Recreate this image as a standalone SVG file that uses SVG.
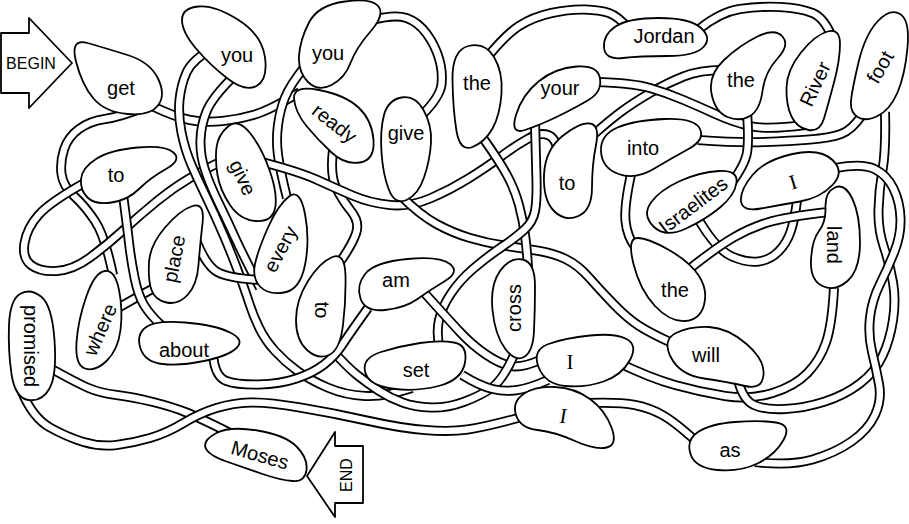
<svg xmlns="http://www.w3.org/2000/svg" xmlns:xlink="http://www.w3.org/1999/xlink" width="909" height="524" viewBox="0 0 909 524">
<style>
.o{fill:none;stroke:#000;stroke-width:10;stroke-linejoin:round}
.i{fill:none;stroke:#fff;stroke-width:6.4;stroke-linejoin:round}
.b{fill:#fff;stroke:#000;stroke-width:1.8;stroke-linejoin:round}
text{font-family:"Liberation Sans",Arial,Helvetica,sans-serif;font-size:20px;fill:#000;text-anchor:middle}
.s{font-family:"Liberation Serif","Times New Roman",serif;font-size:21px}
.sm{font-size:16px}
</style>
<defs>
<path id="c1" d="M152,106 Q175,117 190,120 T222.5,121 T255,114.5 T300,92"/>
<path id="c2" d="M145,107 Q120,117 105,119 T79,129 T64,149.5 T61.5,174 T74,196 T95,221 T113,275"/>
<path id="c3" d="M86,182 Q50,202 38.5,215 T24.5,243 T31,265 T56.5,271 T90,257.5 T123.5,230 T156.5,201.5 T190,178 T224,160"/>
<path id="c4" d="M213,48 Q192,60 186.5,72.5 T179.5,100 T181.5,132.5 T191.5,165 T206.5,197.5 T223.5,235 T238.5,272.5 T249,302.5 T259,327.5 T275,351 T297.5,371 T327.5,387.5 T365,396 T412,388"/>
<path id="c5" d="M232,78 Q212,98 206.5,111.5 T200.5,140 T205,170 T218.5,202.5 T235,237.5 T260,288"/>
<path id="c6" d="M306,65 Q290,85 285,97.5 T278,125 T278,155 T287,198"/>
<path id="c7" d="M372,20 Q395,14 406.5,18 T426.5,33.5 T439,58.5 T441.5,84.5 T422,115"/>
<path id="c8" d="M333,150 Q330,175 336,187.5 T351,211 T356,233.5 T340,262"/>
<path id="c9" d="M262,162 Q300,172 317.5,180 T352.5,195.5 T390,205 T430,198.5 T468.5,178.5 T501,156.5 T527.5,139 T548,135 T558,152"/>
<path id="c10" d="M400,195 Q420,215 436.5,224 T470,238 T503.5,245.5 T536.5,250.5 T565.5,259 T589,277.5 T613.5,304 T638.5,325.5 T672,343"/>
<path id="c11" d="M485,60 Q505,35 519,26 T551.5,13 T585,9.5 T609,13 T630,30"/>
<path id="c12" d="M698,30 Q720,12 740,9 T780,7 T812.5,13 T833,40"/>
<path id="c13" d="M483,138 Q500,162 507.5,176 T519,205 T525,235 T528,268"/>
<path id="c14" d="M535,122 Q536,160 536.5,180 T535,211 T524,230 T501,247.5 T473.5,268.5 T451,293.5 T439,320 T440,350"/>
<path id="c15" d="M593,135 Q610,120 621.5,111.5 T650,93 T683.5,76.5 T722,70"/>
<path id="c16" d="M595,82 Q633,83 650,88 T683.5,100 T716.5,114.5 T750,126 T805,125"/>
<path id="c17" d="M698,140 Q740,143 765,142 T810,139.5 T841,134 T862,115"/>
<path id="c18" d="M747,112 Q749,140 747,152.5 T730,185"/>
<path id="c19" d="M632,170 Q624,205 625.5,221 T636,248"/>
<path id="c20" d="M700,222 Q717,250 732,256.5 T758.5,261.5 T778.5,251.5 T791,230.5 T797,200"/>
<path id="c21" d="M688,270 Q717,247 733.5,237.5 T767.5,222.5 T828,212"/>
<path id="c25" d="M617,362 Q650,378 675,385 T725,396 T772.5,393 T807.5,373 T826,342.5 T834,288"/>
<path id="c26" d="M738,380 Q743,400 754,405 T785,409 T825,401.5 T860,383.5 T882.5,356 T893,320 T893,282.5 T884,247.5 T878.5,210 T882.5,170 T885,112"/>
<path id="c27" d="M836,168 Q862,163 874.5,169 T893.5,188.5 T900.5,218.5 T894.5,251.5 T880,284 T870,317.5 T872,351.5 T879,384 T875,415 T851.5,441.5 T812.5,459.5 T755,462"/>
<path id="c28" d="M420,288 Q447,318 459.5,331.5 T486,354.5 T511,366 T540,360"/>
<path id="c29" d="M330,348 Q347,367 357,375 T378.5,390.5 T402.5,402.5 T431,407.5 T463.5,402 T491.5,388 T514,355"/>
<path id="c30" d="M462,375 Q480,386 492.5,389 T517.5,390 T548,380"/>
<path id="c31" d="M213,355 Q215,377 226.5,381 T259,384.5 T296.5,378.5 T324,364.5 T342.5,344.5 T368,308"/>
<path id="c32" d="M50,368 Q77,383 88.5,388 T116.5,395 T153,402 T186.5,412.5 T230,433"/>
<path id="c33" d="M22,392 Q33,418 50,427.5 T83.5,442 T116.5,445 T150,438 T183.5,423 T216.5,408 T250,402.5 T300,407.5 T366.5,420.5 T425,430 T467.5,429.5 T518,418"/>
<path id="c36" d="M196,240 Q205,263 215,270.5 T260,280"/>
<path id="c37" d="M118,308 Q137,297 154,288"/>
<path id="c38" d="M123,195 Q127,225 129,242.5 T134.5,277.5 T144,305 T162,326"/>
<path id="c39" d="M588,403 Q620,402 635,405 T662.5,415 T697,442"/>
</defs>
<rect width="909" height="524" fill="#fff"/>
<g id="connectors">
<use href="#c1" class="o"/><use href="#c1" class="i"/>
<use href="#c2" class="o"/><use href="#c2" class="i"/>
<use href="#c3" class="o"/><use href="#c3" class="i"/>
<use href="#c4" class="o"/><use href="#c4" class="i"/>
<use href="#c5" class="o"/><use href="#c5" class="i"/>
<use href="#c6" class="o"/><use href="#c6" class="i"/>
<use href="#c7" class="o"/><use href="#c7" class="i"/>
<use href="#c8" class="o"/><use href="#c8" class="i"/>
<use href="#c9" class="o"/><use href="#c9" class="i"/>
<use href="#c10" class="o"/><use href="#c10" class="i"/>
<use href="#c11" class="o"/><use href="#c11" class="i"/>
<use href="#c12" class="o"/><use href="#c12" class="i"/>
<use href="#c13" class="o"/><use href="#c13" class="i"/>
<use href="#c14" class="o"/><use href="#c14" class="i"/>
<use href="#c15" class="o"/><use href="#c15" class="i"/>
<use href="#c16" class="o"/><use href="#c16" class="i"/>
<use href="#c17" class="o"/><use href="#c17" class="i"/>
<use href="#c18" class="o"/><use href="#c18" class="i"/>
<use href="#c19" class="o"/><use href="#c19" class="i"/>
<use href="#c20" class="o"/><use href="#c20" class="i"/>
<use href="#c21" class="o"/><use href="#c21" class="i"/>
<use href="#c25" class="o"/><use href="#c25" class="i"/>
<use href="#c26" class="o"/><use href="#c26" class="i"/>
<use href="#c27" class="o"/><use href="#c27" class="i"/>
<use href="#c28" class="o"/><use href="#c28" class="i"/>
<use href="#c29" class="o"/><use href="#c29" class="i"/>
<use href="#c30" class="o"/><use href="#c30" class="i"/>
<use href="#c31" class="o"/><use href="#c31" class="i"/>
<use href="#c32" class="o"/><use href="#c32" class="i"/>
<use href="#c33" class="o"/><use href="#c33" class="i"/>
<use href="#c36" class="o"/><use href="#c36" class="i"/>
<use href="#c37" class="o"/><use href="#c37" class="i"/>
<use href="#c38" class="o"/><use href="#c38" class="i"/>
<use href="#c39" class="o"/><use href="#c39" class="i"/>
</g>
<g id="begin"><path class="b" d="M1,33 H29 V18 L72,63 L29,108 V93 H1 Z"/><text class="sm" x="31" y="69">BEGIN</text></g>
<g id="end"><path class="b" d="M363,446 H335 V432 L307,476 L335,517 V503 H363 Z"/><text class="sm" transform="translate(346,475) rotate(-90)" y="6">END</text></g>
<g id="n-get"><path class="b" d="M87.5,43 Q105,48 127.5,55 T158,78.5 T158,105.5 T127.5,114 T93.5,98.5 T76,61.5 T87.5,43Z"/><text x="121" y="95">get</text></g>
<g id="n-you1"><path class="b" d="M198.5,6.5 Q215,5 238.5,20 T265,57.5 T256.5,86 T227.5,78.5 T196,48.5 T182,20 T198.5,6.5Z"/><text x="237" y="62">you</text></g>
<g id="n-you2"><path class="b" d="M309,22.5 Q318,5 345,1.5 T378.5,6.5 T370.5,31.5 T350.5,63 T331.5,85 T308,82 T299,56 T309,22.5Z"/><text x="328" y="60">you</text></g>
<g id="n-ready"><path class="b" d="M319,90 Q345,95 358.5,107.5 T373.5,140 T360,162.5 T331.5,152.5 T306.5,126 T294,98.5 T319,90Z"/><text transform="translate(334,124) rotate(38)" y="6">ready</text></g>
<g id="n-give1"><path class="b" d="M401.5,97.5 Q415,95 423.5,110 T431,142.5 T424,177.5 T406.5,200 T389,190 T381.5,152.5 T384,115 T401.5,97.5Z"/><text x="406" y="140">give</text></g>
<g id="n-the1"><path class="b" d="M468.5,46 Q485,42 494,57 T501.5,93.5 T492.5,128.5 T472.5,147 T456.5,131 T452.5,80 T468.5,46Z"/><text x="477" y="90">the</text></g>
<g id="n-your"><path class="b" d="M516,115 Q522,95 538.5,81.5 T576.5,66.5 T600,78.5 T588.5,100 T557.5,116.5 T525,130 T516,115Z"/><text x="560" y="95">your</text></g>
<g id="n-jordan"><path class="b" d="M615.5,26.5 Q628,18 659,18 T701,28 T703.5,47 T667.5,56 T622.5,58 T604,47.5 T615.5,26.5Z"/><text x="664" y="43">Jordan</text></g>
<g id="n-the2"><path class="b" d="M724,60 Q740,45 757.5,36.5 T782.5,36.5 T777.5,58.5 T762.5,91 T750,116 T727.5,117 T711.5,93.5 T724,60Z"/><text x="741" y="87">the</text></g>
<g id="n-river"><path class="b" d="M801,52.5 Q815,35 827.5,31.5 T840,44 T834,82.5 T824,118.5 T808.5,130 T791.5,116.5 T786.5,87.5 T801,52.5Z"/><text transform="translate(815,84) rotate(-65)" y="7">River</text></g>
<g id="n-foot"><path class="b" d="M858.5,62.5 Q865,35 877.5,21.5 T900,14 T907.5,47.5 T897.5,92.5 T877.5,116 T857.5,117 T851,101 T858.5,62.5Z"/><text transform="translate(880,67) rotate(-60)" y="7">foot</text></g>
<g id="n-into"><path class="b" d="M617.5,127.5 Q635,120 665,119 T700,129 T688.5,149 T653.5,169 T618.5,174 T601,151.5 T617.5,127.5Z"/><text x="643" y="155">into</text></g>
<g id="n-to2"><path class="b" d="M562.5,136 Q580,122 590,123.5 T596,145 T592,187.5 T578.5,216 T554,211 T544,175 T562.5,136Z"/><text x="567" y="190">to</text></g>
<g id="n-israelites"><path class="b" d="M651,202.5 Q660,190 680,181 T719,171 T736.5,182.5 T720,207.5 T685,229 T653.5,226.5 T651,202.5Z"/><text transform="translate(693,205) rotate(-37)" y="7">Israelites</text></g>
<g id="n-i3"><path class="b" d="M752.5,175 Q765,160 792.5,154 T832.5,160 T832.5,185 T800,201.5 T761,208.5 T741,201 T752.5,175Z"/><text class="s" transform="translate(793,182) rotate(-17)" y="7">I</text></g>
<g id="n-land"><path class="b" d="M835,187.5 Q845,183 852.5,199 T860,242.5 T847.5,281 T822.5,286 T811,260 T819,231 T825.5,207 T835,187.5Z"/><text transform="translate(833,245) rotate(90)" y="6">land</text></g>
<g id="n-the3"><path class="b" d="M637.5,238 Q648,238 669,250 T699,276 T704,305 T685,321 T655,306 T633.5,264 T637.5,238Z"/><text x="675" y="297">the</text></g>
<g id="n-will"><path class="b" d="M676,333 Q690,326 709,327 T746.5,344 T763.5,375 T745,386 T704,378.5 T671,357.5 T676,333Z"/><text x="706" y="362">will</text></g>
<g id="n-i1"><path class="b" d="M548.5,344 Q565,338 590,335.5 T626.5,339 T630,360 T603.5,381.5 T565,386 T538.5,367 T548.5,344Z"/><text class="s" x="570" y="369">I</text></g>
<g id="n-i2"><path class="b" d="M523.5,394 Q535,386 555,387 T590,399 T611.5,427.5 T606.5,447.5 T575,441 T537.5,430 T516,415 T523.5,394Z"/><text class="s" font-style="italic" x="563" y="423">I</text></g>
<g id="n-as"><path class="b" d="M698,432 Q710,424 735,422 T776,422.5 T783.5,440 T757.5,463.5 T717.5,470 T690.5,454 T698,432Z"/><text x="730" y="457">as</text></g>
<g id="n-cross"><path class="b" d="M500,271 Q510,257 522.5,259.5 T535,286 T534,331 T524,357 T505,348.5 T492.5,310 T500,271Z"/><text transform="translate(516,308) rotate(-90)" y="5">cross</text></g>
<g id="n-am"><path class="b" d="M365.5,273.5 Q375,262 407.5,259 T450,264 T445,281 T417.5,299 T385,310 T360.5,298.5 T365.5,273.5Z"/><text x="396" y="287">am</text></g>
<g id="n-set"><path class="b" d="M381,352 Q400,346 420,343 T454,342.5 T465,362.5 T438.5,386 T391.5,388.5 T365,371.5 T381,352Z"/><text x="416" y="377">set</text></g>
<g id="n-to3"><path class="b" d="M308,281 Q320,262 332.5,257 T345.5,276 T343,325 T329,355 T307,350 T296,320 T308,281Z"/><text transform="translate(321,310) rotate(90)" y="6">to</text></g>
<g id="n-every"><path class="b" d="M268,227.5 Q278,205 289,196.5 T305,214 T305,265 T284,292.5 T260,286.5 T255,264 T268,227.5Z"/><text transform="translate(282,250) rotate(-62)" y="5">every</text></g>
<g id="n-give2"><path class="b" d="M228,126.5 Q238,118 250,133 T270,171.5 T275,208.5 T256,221 T230,205 T217.5,175 T216.5,147.5 T228,126.5Z"/><text transform="translate(242,178) rotate(65)" y="6">give</text></g>
<g id="n-to1"><path class="b" d="M96,159 Q110,150 137.5,147.5 T173.5,152.5 T166,169 T139,189 T111.5,202.5 T87.5,197.5 T81,179 T96,159Z"/><text x="116" y="182">to</text></g>
<g id="n-place"><path class="b" d="M149,262.5 Q150,245 165,227.5 T192.5,206 T202.5,223.5 T198.5,265 T187.5,295 T166.5,302.5 T151.5,290 T149,262.5Z"/><text transform="translate(175,259) rotate(-79)" y="6">place</text></g>
<g id="n-where"><path class="b" d="M105,271 Q115,270 119,290 T120.5,330 T106.5,361 T85,368.5 T76.5,342.5 T86.5,296 T105,271Z"/><text transform="translate(101,330) rotate(-66)" y="6">where</text></g>
<g id="n-about"><path class="b" d="M145.5,327.5 Q155,320 185,322.5 T230,332.5 T236.5,348 T204,361 T162.5,364 T140.5,348.5 T145.5,327.5Z"/><text x="184" y="357">about</text></g>
<g id="n-promised"><path class="b" d="M20,294 Q30,288 41,296.5 T54.5,340 T49.5,388.5 T28.5,400 T11.5,374 T9,325 T20,294Z"/><text transform="translate(30,346) rotate(90)" y="6">promised</text></g>
<g id="n-moses"><path class="b" d="M216.5,433 Q230,426 257.5,430.5 T296.5,446.5 T306.5,470 T292.5,481 T262.5,474 T226.5,461.5 T205.5,447.5 T216.5,433Z"/><text transform="translate(260,455) rotate(16)" y="7">Moses</text></g>
</svg>
